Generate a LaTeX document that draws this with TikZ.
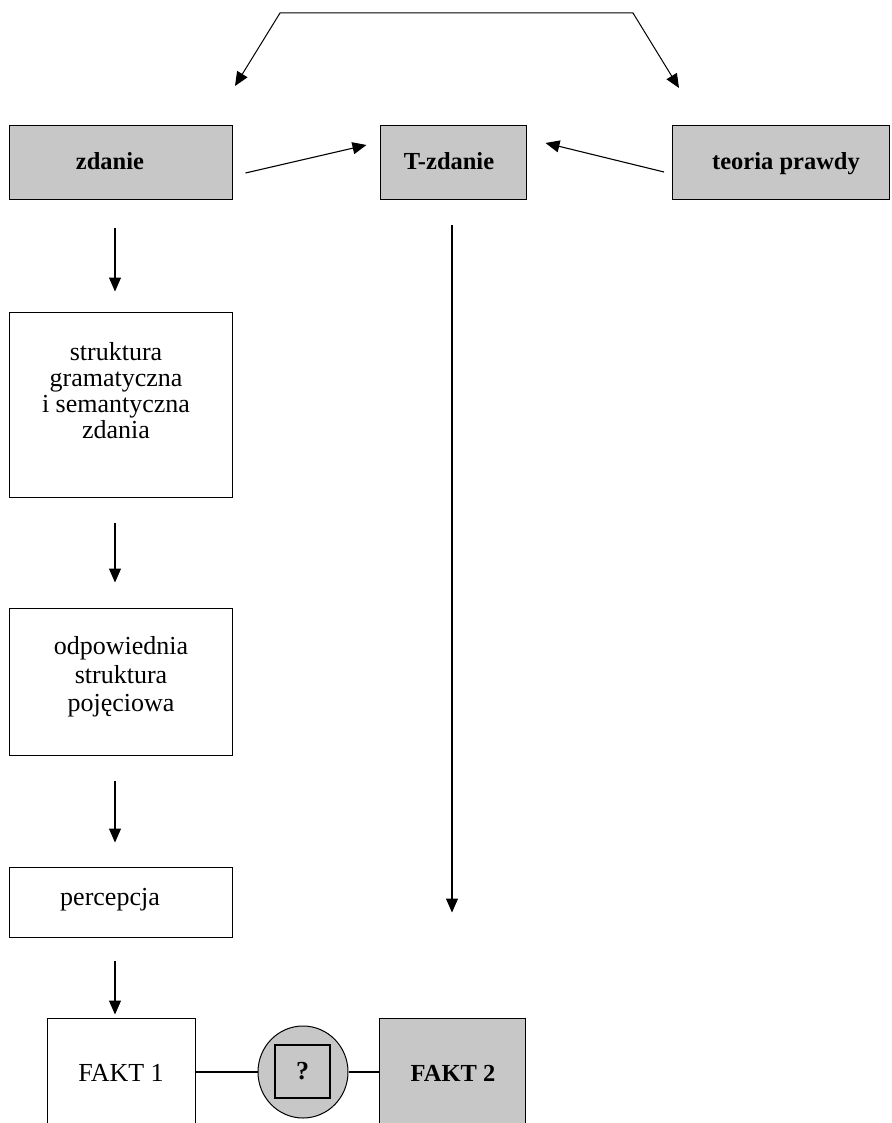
\documentclass[tikz,border=0pt]{standalone}
\usepackage{fontspec}
\setmainfont{Liberation Serif}
\usetikzlibrary{arrows.meta,calc,shapes.geometric}
\begin{document}
\begin{tikzpicture}[x=1pt,y=-1pt,
  box/.style={draw=black, line width=1pt, inner sep=0pt, rectangle},
  greybox/.style={box, fill=black!22},
  lbl/.style={font=\fontsize{26}{26}\selectfont, align=center, inner sep=0pt},
  blbl/.style={font=\fontsize{24.5}{26}\selectfont\bfseries, inner sep=0pt, anchor=base},
  tip/.style={-{Triangle[length=14pt,width=12pt]}},
  arr/.style={line width=1.1pt, tip},
  link/.style={line width=1.1pt}]
\clip (0,0) rectangle (891,1123);
\fill[white] (0,0) rectangle (891,1123);

% top row
\node[greybox, minimum width=223pt, minimum height=74pt] (zd) at (120.5,163) {};
\node[blbl] (zdt) at (110,170) {zdanie};
\node[greybox, minimum width=146pt, minimum height=74pt] (tz) at (453,163) {};
\node[blbl] (tzt) at (449,170) {T-zdanie};
\node[greybox, minimum width=217pt, minimum height=74pt] (tp) at (781,163) {};
\node[blbl] (tpt) at (786,170) {teoria prawdy};

% left column
\node[box, minimum width=223pt, minimum height=185pt] (st) at (120.5,404.5) {};
\node[lbl] (stt) at (116,391) {struktura\\gramatyczna\\i semantyczna\\zdania};
\node[box, minimum width=223pt, minimum height=147pt] (od) at (120.5,681.5) {};
\node[lbl, font=\fontsize{26}{28.5}\selectfont] (odt) at (121,677) {odpowiednia\\struktura\\pojęciowa};
\node[box, minimum width=223pt, minimum height=70pt] (pc) at (120.5,902) {};
\node[lbl, anchor=base] (pct) at (110,905) {percepcja};

% bottom row
\node[box, minimum width=148pt, minimum height=112pt] (f1) at (121,1074) {};
\node[lbl, anchor=base] (f1t) at (121,1081) {FAKT 1};
\node[greybox, minimum width=146pt, minimum height=112pt] (f2) at (452,1074) {};
\node[blbl] (f2t) at (453,1081) {FAKT 2};
\node[ellipse, draw=black, line width=1pt, fill=black!22, minimum width=90pt, minimum height=92pt, inner sep=0pt] (cq) at (303,1072) {};
\node[draw=black, line width=1.8pt, minimum width=55pt, minimum height=53pt, inner sep=0pt, font=\fontsize{26}{26}\selectfont\bfseries] (qb) at (302.5,1071.5) {?};

% top bracket with two arrows
\coordinate (tl) at (280,13);
\coordinate (tr) at (633,13);
\coordinate (tlTip) at (235,86);
\coordinate (trTip) at (679,88);
\draw[line width=1pt, {Triangle[length=14pt,width=12pt]}-{Triangle[length=14pt,width=12pt]}] (tlTip) -- (tl) -- (tr) -- (trTip);

% arrows into T-zdanie
\draw[arr] ($(zd.east)+(13,10)$) -- ($(tz.west)+(-13,-18)$);
\draw[arr] ($(tp.west)+(-8,9)$) -- ($(tz.east)+(19,-20)$);

% left column arrows
\draw[arr] ($(zd.south)+(-5.5,28)$) -- ($(st.north)+(-5.5,-20)$);
\draw[arr] ($(st.south)+(-5.5,25)$) -- ($(od.north)+(-5.5,-25)$);
\draw[arr] ($(od.south)+(-5.5,25)$) -- ($(pc.north)+(-5.5,-24)$);
\draw[arr] ($(pc.south)+(-5.5,23)$) -- ($(f1.north)+(-6,-3)$);

% T-zdanie down arrow
\draw[arr] ($(tz.south)+(-1,25)$) -- ($(f2.north)+(0,-105)$);

% connections through the question circle
\draw[link] (f1.east |- cq.west) -- (cq.west);
\draw[link] (cq.east) -- (cq.east -| f2.west);
\end{tikzpicture}
\end{document}
